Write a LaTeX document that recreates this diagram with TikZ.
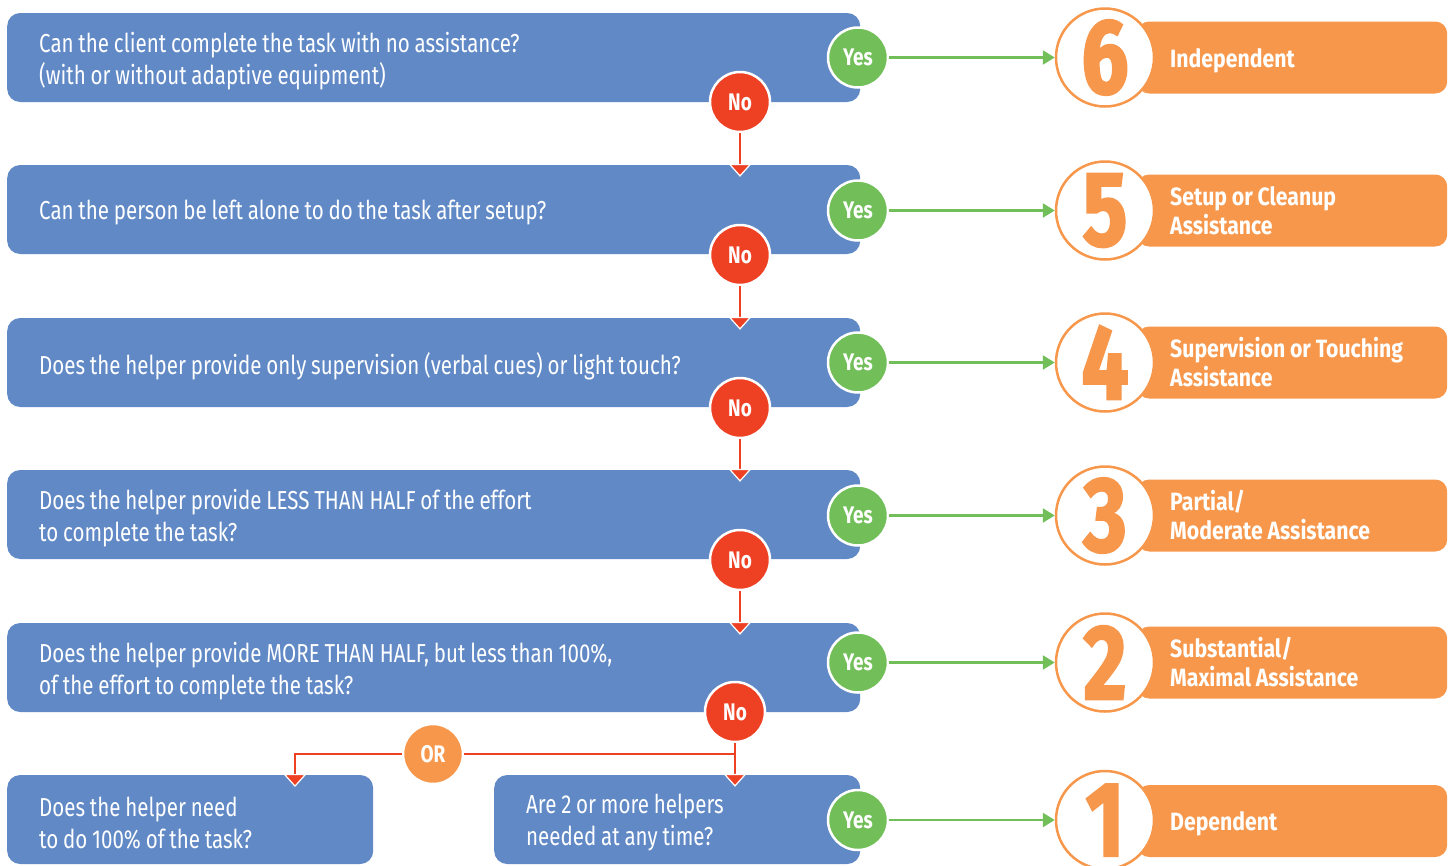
\documentclass[tikz,border=0pt]{standalone}
\usepackage{fontspec}
\setmainfont[FakeStretch=0.79]{Fira Sans}
\newfontfamily\labelfont[FakeStretch=0.85]{Fira Sans}
\newfontfamily\digitfont[FakeStretch=0.78,FakeBold=2.2]{Fira Sans}
\newcommand\tightwords{\spaceskip=4.8pt plus 1pt minus 0.5pt\relax}
\usetikzlibrary{arrows.meta}
\definecolor{qblue}{RGB}{96,137,198}
\definecolor{yesgreen}{RGB}{114,191,90}
\definecolor{nored}{RGB}{238,65,36}
\definecolor{lvorange}{RGB}{247,151,75}
\begin{document}
\begin{tikzpicture}[x=1pt,y=-1pt,
  question/.style={fill=qblue, rounded corners=13pt, anchor=west,
    minimum height=89pt, minimum width=#1, inner sep=0pt},
  qtext/.style={anchor=west, inner sep=0pt, align=left, text=white,
    yshift=-3.5pt,
    font=\fontsize{26}{32}\selectfont\tightwords},
  answer/.style={circle, minimum size=60pt, inner sep=0pt, fill=#1,
    draw=white, line width=2.5pt, text=white,
    font=\bfseries\fontsize{24}{24}\selectfont},
  level/.style={circle, minimum size=98pt, inner sep=0pt, fill=white,
    draw=lvorange, line width=2.5pt, text=lvorange,
    font=\digitfont\bfseries\fontsize{106}{106}\selectfont},
  levelbar/.style={fill=lvorange, rounded corners=12pt, anchor=west,
    minimum width=310pt, minimum height=72pt, inner sep=0pt},
  ltext/.style={anchor=west, inner sep=0pt, align=left, text=white,
    font=\labelfont\bfseries\fontsize{25}{29}\selectfont\tightwords},
  ltextone/.style={ltext, yshift=-3pt},
  yesarrow/.style={draw=yesgreen, line width=2.5pt,
    -{Triangle[width=14pt,length=12pt]}},
  noline/.style={draw=nored, line width=2.5pt},
  noarrow/.style={noline,
    -{Triangle[width=23pt,length=13pt,fill=nored,color=white,line width=1.2pt]}}]
\useasboundingbox (0,0) rectangle (1450,865);

% question boxes and their texts
\node[question=853pt] (q1) at (7,57.5) {};
\node[question=853pt] (q2) at (7,209.5) {};
\node[question=853pt] (q3) at (7,362.5) {};
\node[question=853pt] (q4) at (7,514.5) {};
\node[question=853pt] (q5) at (7,667.5) {};
\node[question=366pt] (q6a) at (7,819.5) {};
\node[question=366pt] (q6b) at (494,819.5) {};
\node[qtext] (t1) at ([xshift=32pt]q1.west) {Can the client complete the task with no assistance?\\(with or without adaptive equipment)};
\node[qtext] (t2) at ([xshift=32pt]q2.west) {Can the person be left alone to do the task after setup?};
\node[qtext] (t3) at ([xshift=32pt]q3.west) {Does the helper provide only supervision (verbal cues) or light touch?};
\node[qtext] (t4) at ([xshift=32pt]q4.west) {Does the helper provide LESS THAN HALF of the effort\\to complete the task?};
\node[qtext] (t5) at ([xshift=32pt]q5.west) {Does the helper provide MORE THAN HALF, but less than 100\%,\\of the effort to complete the task?};
\node[qtext] (t6a) at ([xshift=32pt]q6a.west) {Does the helper need\\to do 100\% of the task?};
\node[qtext] (t6b) at ([xshift=32pt]q6b.west) {Are 2 or more helpers\\needed at any time?};

% level bars, their labels and the numbered circles
\node[levelbar] (b6) at (1137,57.5) {};
\node[levelbar] (b5) at (1137,210.5) {};
\node[levelbar] (b4) at (1137,362.5) {};
\node[levelbar] (b3) at (1137,515.5) {};
\node[levelbar] (b2) at (1137,662.5) {};
\node[levelbar] (b1) at (1137,821) {};
\node[ltextone] (l6) at ([xshift=33pt]b6.west) {Independent};
\node[ltext] (l5) at ([xshift=33pt]b5.west) {Setup or Cleanup\\Assistance};
\node[ltext] (l4) at ([xshift=33pt]b4.west) {Supervision or Touching\\Assistance};
\node[ltext] (l3) at ([xshift=33pt]b3.west) {Partial/\\Moderate Assistance};
\node[ltext] (l2) at ([xshift=33pt]b2.west) {Substantial/\\Maximal Assistance};
\node[ltextone] (l1) at ([xshift=33pt]b1.west) {Dependent};
\node[level] (lv6) at (1105,57.5) {6};
\node[level] (lv5) at (1105,210.5) {5};
\node[level] (lv4) at (1105,362.5) {4};
\node[level] (lv3) at (1105,515.5) {3};
\node[level] (lv2) at (1105,662.5) {2};
\node[level] (lv1) at (1105,820) {1};

% yes / no / or badges
\node[answer=yesgreen] (y1) at (858,57.5) {Yes};
\node[answer=yesgreen] (y2) at (858,210.5) {Yes};
\node[answer=yesgreen] (y3) at (858,362.5) {Yes};
\node[answer=yesgreen] (y4) at (858,515.5) {Yes};
\node[answer=yesgreen] (y5) at (858,662.5) {Yes};
\node[answer=yesgreen] (y6) at (858,820) {Yes};
\node[answer=nored] (n1) at (740,102) {No};
\node[answer=nored] (n2) at (740,255) {No};
\node[answer=nored] (n3) at (740,408) {No};
\node[answer=nored] (n4) at (740,560) {No};
\node[answer=nored] (n5) at (735,712) {No};
\node[answer=lvorange] (orc) at (433,754) {OR};

% yes connectors
\draw[yesarrow] (y1) -- (lv6);
\draw[yesarrow] (y2) -- (lv5);
\draw[yesarrow] (y3) -- (lv4);
\draw[yesarrow] (y4) -- (lv3);
\draw[yesarrow] (y5) -- (lv2);
\draw[yesarrow] (y6) -- (lv1);

% no connectors
\draw[noarrow] (n1.south) -- ([yshift=-12pt]q2.north -| n1);
\draw[noarrow] (n2.south) -- ([yshift=-12pt]q3.north -| n2);
\draw[noarrow] (n3.south) -- ([yshift=-12pt]q4.north -| n3);
\draw[noarrow] (n4.south) -- ([yshift=-12pt]q5.north -| n4);
\coordinate (split) at (n5 |- orc);
\coordinate (tL) at (295,787);
\draw[noline] (n5.south) -- (split);
\draw[noarrow] (split) -- ([yshift=-12pt]q6b.north -| n5);
\draw[noline] (split) -- (orc.east);
\draw[noarrow] (orc.west) -| (tL);
\end{tikzpicture}
\end{document}
